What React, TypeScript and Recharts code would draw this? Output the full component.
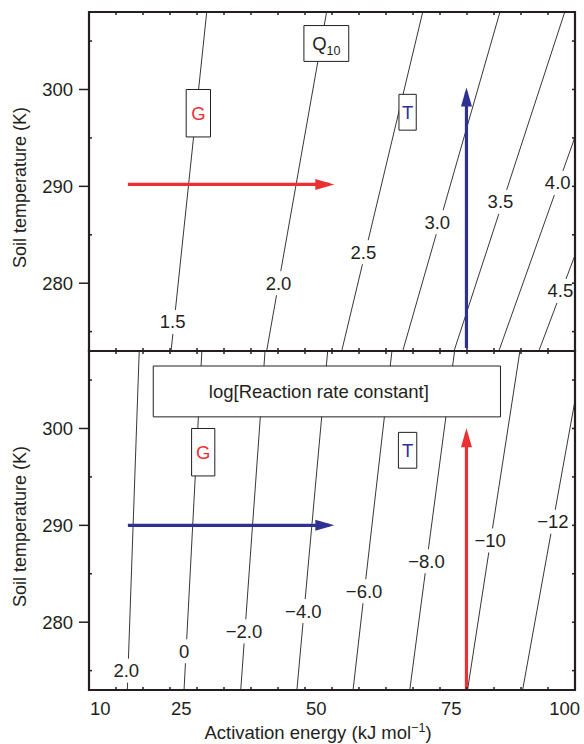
import React from 'react';
import { ComposedChart, Line, XAxis, YAxis, ReferenceArea, ReferenceDot } from 'recharts';

type Pt = [number, number]; // [activation energy kJ/mol, soil temperature K]

const INK = '#231f20';
const RED = '#ec2f33';
const BLUE = '#2e3192';
const FONT = '"Liberation Sans", Arial, Helvetica, sans-serif';

// axes
const eaDomain: Pt = [10, 100];
const tDomain: Pt = [273, 308];
const eaLabels = [10, 25, 50, 75, 100];
const eaMinor = [15, 20, 25, 30, 35, 40, 45, 50, 55, 60, 65, 70, 75, 80, 85, 90, 95];
const tLabels = [280, 290, 300];
const tMinor = [275, 285, 295, 305];
const tAll = [275, 280, 285, 290, 295, 300, 305];

// upper panel: Q10 isolines
const q10Names = ['1.5', '2.0', '2.5', '3.0', '3.5', '4.0', '4.5'];
const q10Lines: Pt[][] = [
  [[25.2, 273], [31.8, 308]],
  [[42.9, 273], [54.0, 308]],
  [[56.8, 273], [71.8, 308]],
  [[68.1, 273], [86.1, 308]],
  [[77.6, 273], [98.1, 308]],
  [[85.9, 273], [100, 295.1]],
  [[93.3, 273], [100, 282.9]],
];
const q10LabelAt: Pt[] = [
  [25.5, 276.0], [45.1, 280.0], [60.8, 283.2], [74.5, 286.3],
  [86.2, 288.4], [96.8, 290.35], [97.3, 279.2],
];
const q10HArrow: Pt[] = [[17.2, 290.2], [54.5, 290.2]];
const q10VArrow: Pt[] = [[79.9, 273.3], [79.9, 299.7]];

// lower panel: log[reaction rate constant] isolines
const logkNames = ['2.0', '0', '\u22122.0', '\u22124.0', '\u22126.0', '\u22128.0', '\u221210', '\u221212'];
const logkLines: Pt[][] = [
  [[17.1, 273], [19.3, 308]],
  [[27.6, 273], [30.9, 308]],
  [[38.1, 273], [42.6, 308]],
  [[48.5, 273], [54.2, 308]],
  [[58.9, 273], [66.1, 308]],
  [[69.4, 273], [77.7, 308]],
  [[80.1, 273], [89.8, 308]],
  [[90.3, 273], [100, 302.9]],
];
const logkLabelAt: Pt[] = [
  [16.9, 275.0], [27.6, 277.0], [38.7, 279.05], [49.7, 281.15],
  [60.95, 283.2], [72.5, 286.3], [84.3, 288.45], [95.9, 290.37],
];
const logkHArrow: Pt[] = [[17.2, 290.0], [54.5, 290.0]];
const logkVArrow: Pt[] = [[79.9, 273], [79.9, 299.5]];

// boxes [ea1, ea2, t1, t2]
const q10GBox = [28.0, 32.5, 295.1, 300.0];
const q10TBox = [67.4, 70.6, 295.8, 299.5];
const q10TitleBox = [49.8, 58.1, 302.9, 306.6];
const logkTitleBox = [21.9, 86.2, 301.2, 306.45];
const logkGBox = [29.0, 33.3, 295.1, 300.0];
const logkTBox = [67.3, 70.7, 295.9, 299.6];

const rows = (pts: Pt[]) => pts.map(([ea, t]) => ({ ea, t }));

const contourLabel = (text: string) => (p: any) => {
  const w = text.length * 9 + 6;
  return (
    <g>
      <rect x={p.cx - w / 2} y={p.cy - 12} width={w} height={24} fill="#fff" />
      <text x={p.cx} y={p.cy} dy={6.5} textAnchor="middle" fontSize={18.5} fill={INK}>
        {text}
      </text>
    </g>
  );
};

const boxText = (content: React.ReactNode, color: string, dx = 0) => (p: any) => {
  const { x, y, width, height } = p.viewBox;
  return (
    <text x={x + width / 2 + dx} y={y + height / 2} dy={6.5} textAnchor="middle" fontSize={18.5} fill={color}>
      {content}
    </text>
  );
};

const arrowHead = (dir: 'right' | 'up', color: string) => (p: any) => {
  const key = `h-${p.index}`;
  if (p.index !== 1) return <g key={key} />;
  const { cx, cy } = p;
  const d =
    dir === 'right'
      ? `M${cx + 5},${cy} L${cx - 14},${cy - 5.5} L${cx - 14},${cy + 5.5} Z`
      : `M${cx},${cy - 5} L${cx - 5.5},${cy + 14} L${cx + 5.5},${cy + 14} Z`;
  return <path key={key} d={d} fill={color} stroke="none" />;
};

const yTitle = (p: any) => {
  const { x, y, height } = p.viewBox;
  const cx = x + 20;
  const cy = y + height / 2 + 6;
  return (
    <text x={cx} y={cy} transform={`rotate(-90 ${cx} ${cy})`} textAnchor="middle" dy={6} fontSize={18} fill={INK}>
      Soil temperature (K)
    </text>
  );
};

const xTitle = (p: any) => {
  const { x, width, y } = p.viewBox;
  return (
    <text x={x + width / 2 - 14} y={y + 48.5} textAnchor="middle" fontSize={18.5} fill={INK}>
      Activation energy (kJ mol
      <tspan fontSize={12.5} dy={-7}>{'\u22121'}</tspan>
      <tspan dy={7}>)</tspan>
    </text>
  );
};

const EaTick = (p: any) => {
  const last = p.payload.value === 100;
  return (
    <text x={last ? p.x + 5 : p.x + 1} y={p.y} dy={16.5} textAnchor={last ? 'end' : 'start'} fontSize={18.5} fill={INK}>
      {p.payload.value}
    </text>
  );
};

function Panel({
  top,
  height,
  bottomLabels,
  names,
  lines,
  labelAt,
  hArrow,
  vArrow,
  hColor,
  vColor,
  boxes,
}: {
  top: number;
  height: number;
  bottomLabels: boolean;
  names: string[];
  lines: Pt[][];
  labelAt: Pt[];
  hArrow: Pt[];
  vArrow: Pt[];
  hColor: string;
  vColor: string;
  boxes: { b: number[]; label: any }[];
}) {
  return (
    <div style={{ position: 'absolute', left: 0, top }}>
      <ComposedChart
        width={584}
        height={height}
        margin={{ top: 12, right: 9, bottom: bottomLabels ? 0 : 1, left: 0 }}
      >
        {bottomLabels ? (
          <XAxis
            type="number"
            dataKey="ea"
            domain={eaDomain}
            allowDataOverflow
            ticks={eaLabels}
            interval={0}
            height={54}
            axisLine={false}
            tickLine={false}
            tick={EaTick}
            label={xTitle}
          />
        ) : (
          <XAxis
            type="number"
            dataKey="ea"
            domain={eaDomain}
            allowDataOverflow
            ticks={eaMinor}
            interval={0}
            mirror
            tickSize={3}
            tickFormatter={() => ''}
            axisLine={false}
            tickLine={{ stroke: INK, strokeWidth: 1.5 }}
          />
        )}
        <XAxis
          xAxisId="bm"
          type="number"
          dataKey="ea"
          domain={eaDomain}
          allowDataOverflow
          ticks={eaMinor}
          interval={0}
          mirror
          hide={!bottomLabels}
          tickSize={3}
          tickFormatter={() => ''}
          axisLine={false}
          tickLine={{ stroke: INK, strokeWidth: 1.5 }}
        />
        <XAxis
          xAxisId="top"
          orientation="top"
          type="number"
          dataKey="ea"
          domain={eaDomain}
          allowDataOverflow
          ticks={eaMinor}
          interval={0}
          mirror
          tickSize={3}
          tickFormatter={() => ''}
          axisLine={false}
          tickLine={{ stroke: INK, strokeWidth: 1.5 }}
        />
        <YAxis
          type="number"
          dataKey="t"
          domain={tDomain}
          allowDataOverflow
          ticks={tLabels}
          interval={0}
          width={89}
          tickSize={10}
          tickMargin={6}
          axisLine={false}
          tickLine={{ stroke: INK, strokeWidth: 1.5 }}
          tick={{ fill: INK, fontSize: 18.5 }}
          label={yTitle}
        />
        <YAxis
          yAxisId="lm"
          type="number"
          dataKey="t"
          domain={tDomain}
          allowDataOverflow
          ticks={tMinor}
          interval={0}
          mirror
          tickSize={3}
          tickFormatter={() => ''}
          axisLine={false}
          tickLine={{ stroke: INK, strokeWidth: 1.5 }}
        />
        <YAxis
          yAxisId="r"
          orientation="right"
          type="number"
          dataKey="t"
          domain={tDomain}
          allowDataOverflow
          ticks={tAll}
          interval={0}
          mirror
          tickSize={3}
          tickFormatter={() => ''}
          axisLine={false}
          tickLine={{ stroke: INK, strokeWidth: 1.5 }}
        />

        {lines.map((l, i) => (
          <Line
            key={`c${i}`}
            data={rows(l)}
            dataKey="t"
            type="linear"
            stroke={INK}
            strokeWidth={0.9}
            dot={false}
            activeDot={false}
            isAnimationActive={false}
          />
        ))}

        {labelAt.map(([ea, t], i) => (
          <ReferenceDot
            key={`lab${i}`}
            x={ea}
            y={t}
            r={0}
            ifOverflow="visible"
            zIndex={450}
            shape={contourLabel(names[i])}
          />
        ))}

        {boxes.map(({ b, label }, i) => (
          <ReferenceArea
            key={`box${i}`}
            x1={b[0]}
            x2={b[1]}
            y1={b[2]}
            y2={b[3]}
            fill="#fff"
            fillOpacity={1}
            stroke={INK}
            strokeWidth={1}
            ifOverflow="visible"
            zIndex={460}
            label={label}
          />
        ))}

        <Line
          data={rows(hArrow)}
          dataKey="t"
          type="linear"
          stroke={hColor}
          strokeWidth={3.2}
          dot={arrowHead('right', hColor)}
          activeDot={false}
          zIndex={470}
          isAnimationActive={false}
        />
        <Line
          data={rows(vArrow)}
          dataKey="t"
          type="linear"
          stroke={vColor}
          strokeWidth={3.2}
          dot={arrowHead('up', vColor)}
          activeDot={false}
          zIndex={470}
          isAnimationActive={false}
        />

        <ReferenceArea
          x1={eaDomain[0]}
          x2={eaDomain[1]}
          y1={tDomain[0]}
          y2={tDomain[1]}
          fill="none"
          stroke={INK}
          strokeWidth={2.2}
          ifOverflow="visible"
          zIndex={500}
        />
      </ComposedChart>
    </div>
  );
}

export default function App() {
  const q10Boxes = [
    { b: q10GBox, label: boxText('G', RED) },
    { b: q10TBox, label: boxText('T', BLUE) },
    {
      b: q10TitleBox,
      label: boxText(
        <>
          Q<tspan fontSize={12.5} dy={5}>10</tspan>
        </>,
        INK,
      ),
    },
  ];
  const logkBoxes = [
    { b: logkTitleBox, label: boxText('log[Reaction rate constant]', INK, -8) },
    { b: logkGBox, label: boxText('G', RED) },
    { b: logkTBox, label: boxText('T', BLUE) },
  ];
  return (
    <div style={{ position: 'absolute', left: 0, top: 0, width: 584, height: 744, fontFamily: FONT, background: '#fff' }}>
      <Panel
        top={0}
        height={352}
        bottomLabels={false}
        names={q10Names}
        lines={q10Lines}
        labelAt={q10LabelAt}
        hArrow={q10HArrow}
        vArrow={q10VArrow}
        hColor={RED}
        vColor={BLUE}
        boxes={q10Boxes}
      />
      <Panel
        top={339}
        height={405}
        bottomLabels
        names={logkNames}
        lines={logkLines}
        labelAt={logkLabelAt}
        hArrow={logkHArrow}
        vArrow={logkVArrow}
        hColor={BLUE}
        vColor={RED}
        boxes={logkBoxes}
      />
    </div>
  );
}
